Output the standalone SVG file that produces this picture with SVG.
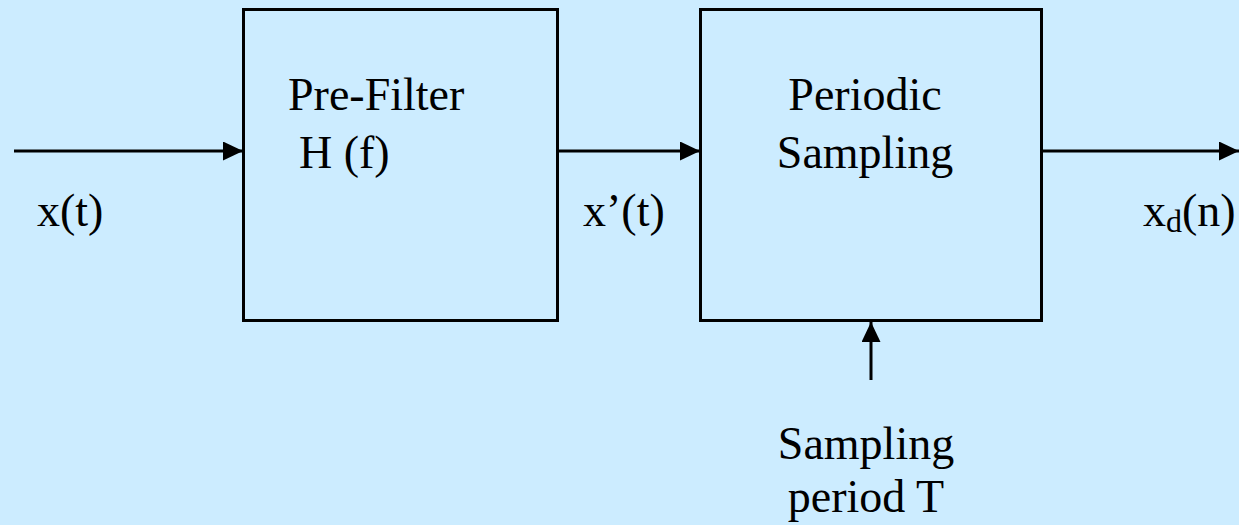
<svg xmlns="http://www.w3.org/2000/svg" width="1239" height="525" viewBox="0 0 1239 525">
  <defs>
    <marker id="arrow" markerWidth="20" markerHeight="19" refX="20" refY="9.5" orient="auto" markerUnits="userSpaceOnUse">
      <path d="M0,0 L20,9.5 L0,19 Z" fill="#000"/>
    </marker>
    <style>
      .box { fill: none; stroke: #000; stroke-width: 3; }
      .wire { fill: none; stroke: #000; stroke-width: 3; marker-end: url(#arrow); }
      text { font-family: "Liberation Serif", "Times New Roman", serif; font-size: 46px; fill: #000; }
      .mid { text-anchor: middle; }
    </style>
  </defs>
  <rect width="1239" height="525" fill="#CCECFF"/>

  <g id="connectors">
    <line class="wire" x1="14" y1="151" x2="243" y2="151"/>
    <line class="wire" x1="558" y1="151" x2="700" y2="151"/>
    <line class="wire" x1="1042" y1="151" x2="1239" y2="151"/>
    <line class="wire" x1="871" y1="380" x2="871" y2="322"/>
  </g>

  <g id="prefilter">
    <rect class="box" x="243.5" y="9.5" width="314" height="311"/>
    <text x="288" y="110">Pre-Filter</text>
    <text x="299" y="168">H (f)</text>
  </g>

  <g id="sampler">
    <rect class="box" x="700.5" y="9.5" width="341" height="311"/>
    <text class="mid" x="865" y="110">Periodic</text>
    <text class="mid" x="865" y="168">Sampling</text>
  </g>

  <g id="label-input">
    <text x="37" y="226">x(t)</text>
  </g>
  <g id="label-filtered">
    <text x="583" y="226">x’(t)</text>
  </g>
  <g id="label-output">
    <text x="1143" y="226">x<tspan font-size="32" dy="6">d</tspan><tspan dy="-6">(n)</tspan></text>
  </g>
  <g id="label-period">
    <text class="mid" x="866" y="459">Sampling</text>
    <text class="mid" x="866" y="512">period T</text>
  </g>
</svg>
